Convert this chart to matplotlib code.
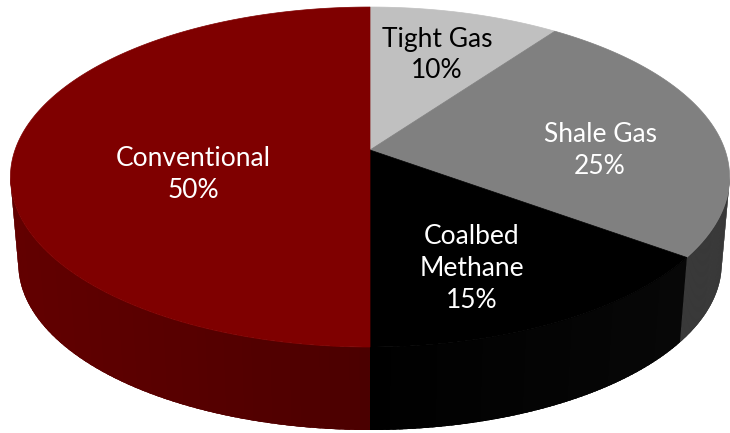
import numpy as np
import matplotlib
matplotlib.use("Agg")
import matplotlib.pyplot as plt
from matplotlib.patches import Polygon
from matplotlib.colors import to_rgb

# shares of gas supply by source, clockwise from 12 o'clock
labels = ["Tight Gas", "Shale Gas", "Coalbed\nMethane", "Conventional"]
shares = [10, 25, 15, 50]
top_colors = ["#c0c0c0", "#808080", "#000000", "#7f0000"]
side_colors = [("#8c8c8c", "#7a7a7a"), ("#3a3a3a", "#2c2c2c"),
               ("#080808", "#000000"), ("#620000", "#4b0000")]
text_colors = ["black", "white", "white", "white"]
label_pos = [(437, 55), (600, 151), (472, 268), (193, 174)]

# projected disc geometry (pixel space)
CX, CY = 370.0, 150.0      # apex of the slices on the top face
A, B, K = 355.0, 165.7, 0.159
S, CYB = 0.978, 237.3      # bottom face: shrink + vertical placement


def rim(theta_deg, bottom=False):
    t = np.radians(theta_deg)
    u, v = np.sin(t), np.cos(t)
    w = 1.0 + K * v
    x = CX + A * u / w
    y = CY - B * v / w
    if bottom:
        x = CX + S * (x - CX)
        y = CYB + S * (y - CY)
    return x, y


def wall(a0, a1, n=8):
    th = np.linspace(a0, a1, n)
    xt, yt = rim(th)
    xb, yb = rim(th[::-1], bottom=True)
    return np.column_stack([np.r_[xt, xb], np.r_[yt, yb]])


fig = plt.figure(figsize=(7.3, 4.33), dpi=100)
ax = fig.add_axes([0, 0, 1, 1])
ax.set_xlim(0, 730)
ax.set_ylim(433, 0)
ax.axis("off")

bounds = np.concatenate([[0], np.cumsum(shares)]) * 3.6
vis_lo = np.degrees(np.arccos(-K))
vis_hi = 360 - vis_lo

# side walls: a base piece, then overlapping strips for the shading
for i in range(len(shares)):
    a0, a1 = max(bounds[i], vis_lo), min(bounds[i + 1], vis_hi)
    if a1 <= a0:
        continue
    c0, c1 = np.array(to_rgb(side_colors[i][0])), np.array(to_rgb(side_colors[i][1]))
    ax.add_patch(Polygon(wall(a0, a1, 120), closed=True,
                         facecolor=0.5 * (c0 + c1), lw=0))
    edges = np.linspace(a0, a1, 60)
    step = edges[1] - edges[0]
    for j in range(len(edges) - 1):
        xm, _ = rim(0.5 * (edges[j] + edges[j + 1]))
        f = abs(xm - CX) / A
        col = c1 + (c0 - c1) * f
        hi = min(edges[j + 1] + 0.6 * step, a1)
        ax.add_patch(Polygon(wall(edges[j], hi), closed=True,
                             facecolor=col, lw=0))

# top faces
for i in range(len(shares)):
    th = np.linspace(bounds[i], bounds[i + 1], 200)
    xt, yt = rim(th)
    pts = np.column_stack([np.r_[CX, xt], np.r_[CY, yt]])
    ax.add_patch(Polygon(pts, closed=True, facecolor=top_colors[i],
                         edgecolor=top_colors[i], lw=0.5))

for i, lab in enumerate(labels):
    x, y = label_pos[i]
    ax.text(x, y, f"{lab}\n{shares[i]}%", ha="center", va="center",
            color=text_colors[i], fontsize=19, family="Lato", linespacing=1.35)

fig.savefig("out.png", dpi=100)
